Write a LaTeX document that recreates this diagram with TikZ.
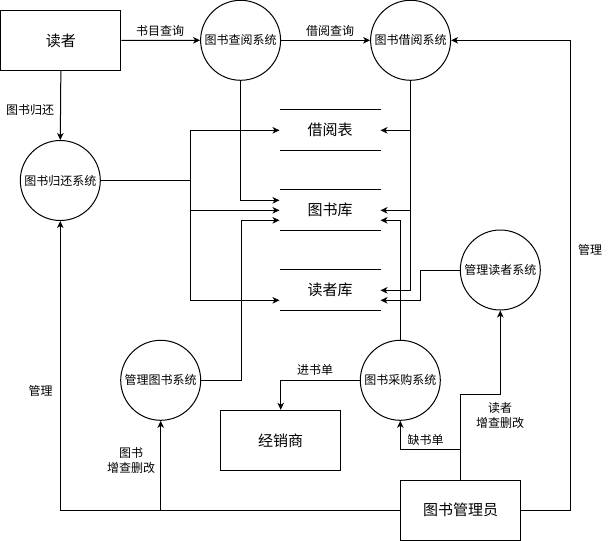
\documentclass[tikz,border=0pt]{standalone}
\usepackage{fontspec}
\setmainfont{Noto Sans CJK SC}
\usetikzlibrary{arrows.meta}
\begin{document}
\begin{tikzpicture}[x=1pt,y=-1pt, line width=1pt,
  every node/.style={inner sep=0pt},
  proc/.style={circle, draw, minimum size=80pt, font=\fontsize{12}{14}\selectfont},
  ext/.style={rectangle, draw, minimum width=120pt, minimum height=60pt, font=\fontsize{15}{18}\selectfont},
  store/.style={minimum width=100pt, minimum height=40pt, font=\fontsize{15}{18}\selectfont},
  lbl/.style={font=\fontsize{12}{14.5}\selectfont, align=center},
  flow/.style={-{Stealth[length=7pt,width=6.5pt,inset=2pt]}}]
\useasboundingbox (0,0) rectangle (611,541);
% nodes
\node[ext] (reader) at (60.85,40.35) {读者};
\node[proc] (cx) at (240.6,40.3) {图书查阅系统};
\node[proc] (jy) at (410.6,40.3) {图书借阅系统};
\node[proc] (gh) at (60.3,180.5) {图书归还系统};
\node[proc] (glds) at (500.3,270) {管理读者系统};
\node[proc] (glts) at (160.7,380.3) {管理图书系统};
\node[proc] (cg) at (400.3,380.3) {图书采购系统};
\node[ext] (jxs) at (280.7,440.3) {经销商};
\node[ext] (gly) at (460.7,510.2) {图书管理员};
\node[store] (jyb) at (330,130.3) {借阅表};
\node[store] (tsk) at (330,210.3) {图书库};
\node[store] (dzk) at (330,290.3) {读者库};
\foreach \s in {jyb,tsk,dzk}
  \draw (\s.north west) -- (\s.north east) (\s.south west) -- (\s.south east);
% connectors
\draw[flow] (reader.east) -- (cx.west);
\draw[flow] (cx.east) -- (jy.west);
\draw[flow] (reader.south) -- (gh.north);
\coordinate (ghj) at (190.7,180.5);
\draw (gh.east) -- (ghj);
\draw[flow] (ghj) |- (jyb.west);
\draw[flow] (ghj) |- (tsk.west);
\draw[flow] (ghj) |- ([yshift=-10pt]dzk.west);
\draw[flow] (cx.south) |- ([yshift=10pt]tsk.west);
\draw[flow] (glts.east) -- ++(40,0) |- ([yshift=-10pt]tsk.west);
\draw[flow] (jy.south) |- (dzk.east);
\draw[flow] (jy.south |- jyb.east) -- (jyb.east);
\draw[flow] (jy.south |- tsk.east) -- (tsk.east);
\draw[flow] (cg.north) |- ([yshift=-10pt]tsk.east);
\draw[flow] (glds.west) -- ++(-39.6,0) |- ([yshift=-10pt]dzk.east);
\draw[flow] (cg.west) -| (jxs.north);
\draw[flow] (gly.north) -- ++(0,-85) -| (glds.south);
\draw[flow] ([yshift=30pt]gly.north) -| (cg.south);
\draw[flow] (gly.east) -- ++(49.3,0) |- (jy.east);
\draw[flow] (gly.west) -| (gh.south);
\draw[flow] (glts.south |- gly.west) -- (glts.south);
% labels
\node[lbl] (l1) at (160,30.7) {书目查询};
\node[lbl] (l2) at (330,30.7) {借阅查询};
\node[lbl] (l3) at (30,110) {图书归还};
\node[lbl] (l4) at (40.7,390.7) {管理};
\node[lbl] (l5) at (590,250) {管理};
\node[lbl] (l6) at (131,460.5) {图书\\增查删改};
\node[lbl] (l7) at (500,415.3) {读者\\增查删改};
\node[lbl] (l8) at (425.7,440.3) {缺书单};
\node[lbl] (l9) at (315,370) {进书单};
\end{tikzpicture}
\end{document}
